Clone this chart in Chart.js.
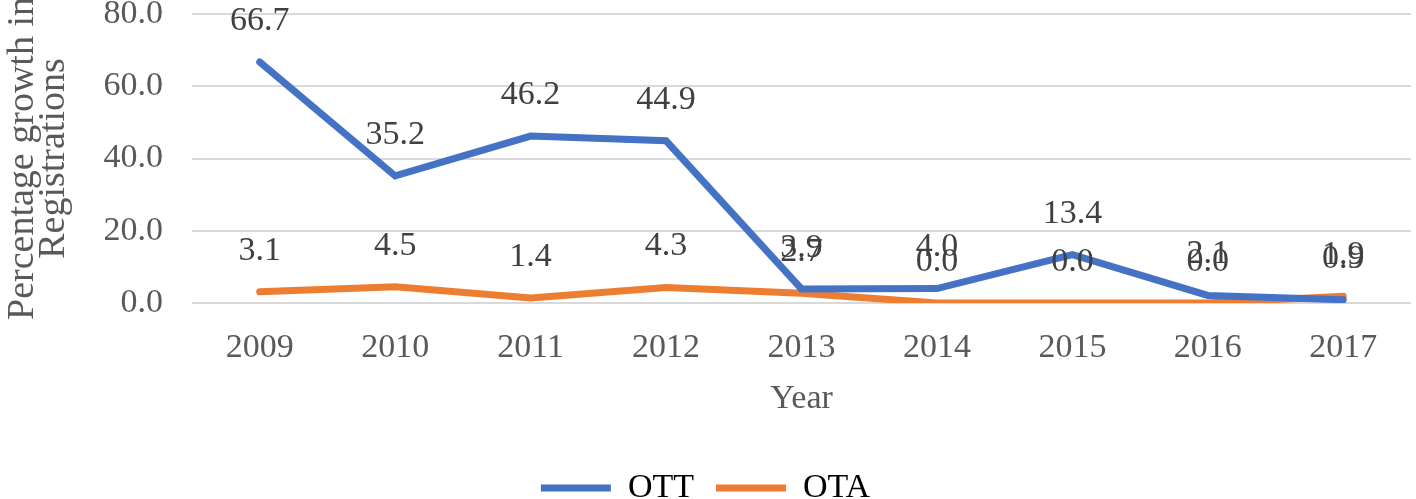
<!DOCTYPE html>
<html>
<head>
<meta charset="utf-8">
<script src="https://cdn.jsdelivr.net/npm/chart.js@4"></script>
<style>
  html, body { margin: 0; padding: 0; background: #fff; }
  #wrap { width: 1416px; height: 499px; }
</style>
</head>
<body>
<div id="wrap"><canvas id="growthChart" width="1416" height="499"></canvas></div>
<script>
const years = ['2009', '2010', '2011', '2012', '2013', '2014', '2015', '2016', '2017'];
const ottValues = [66.7, 35.2, 46.2, 44.9, 3.9, 4.0, 13.4, 2.1, 0.9];
const otaValues = [3.1, 4.5, 1.4, 4.3, 2.7, 0.0, 0.0, 0.0, 1.9];
const yTicks = [0, 20, 40, 60, 80];

const FONT = "'Liberation Serif', 'Times New Roman', serif";
const textColor = '#595959';

// draws the value above every point
const valueLabels = {
    id: 'valueLabels',
    afterDatasetsDraw(chart) {
        const ctx = chart.ctx;
        ctx.save();
        ctx.font = '34px ' + FONT;
        ctx.fillStyle = '#404040';
        ctx.textAlign = 'center';
        ctx.textBaseline = 'middle';
        chart.data.datasets.forEach((ds, i) => {
            const meta = chart.getDatasetMeta(i);
            meta.data.forEach((pt, j) => {
                ctx.fillText(ds.data[j].toFixed(1), pt.x, pt.y - 41);
            });
        });
        ctx.restore();
    }
};

const ctx = document.getElementById('growthChart').getContext('2d');
const chart = new Chart(ctx, {
    type: 'line',
    data: {
        labels: years,
        datasets: [{
            label: 'OTT',
            data: ottValues,
            borderColor: '#4472C4',
            backgroundColor: '#4472C4',
            borderWidth: 7,
            borderCapStyle: 'round',
            pointRadius: 0,
            tension: 0
        }, {
            label: 'OTA',
            data: otaValues,
            borderColor: '#ED7D31',
            backgroundColor: '#ED7D31',
            borderWidth: 7,
            borderCapStyle: 'round',
            pointRadius: 0,
            tension: 0
        }]
    },
    options: {
        responsive: false,
        animation: false,
        layout: { padding: { top: 14, right: 5, left: 0, bottom: -16 } },
        plugins: {
            tooltip: { enabled: false },
            legend: {
                position: 'bottom',
                labels: {
                    font: { family: FONT, size: 34 },
                    color: textColor,
                    boxWidth: 70,
                    boxHeight: 7,
                    padding: 22,
                    useBorderRadius: true,
                    borderRadius: 3,
                    generateLabels(c) {
                        return c.data.datasets.map((ds, i) => ({
                            text: ds.label,
                            fillStyle: ds.borderColor,
                            strokeStyle: ds.borderColor,
                            lineWidth: 0,
                            datasetIndex: i
                        }));
                    }
                }
            }
        },
        scales: {
            x: {
                offset: true,
                grid: { display: false },
                border: { display: false },
                ticks: {
                    font: { family: FONT, size: 34 },
                    color: textColor,
                    padding: 17,
                    maxRotation: 0
                },
                title: {
                    display: true,
                    text: 'Year',
                    font: { family: FONT, size: 34 },
                    color: textColor,
                    padding: { top: 12, bottom: 30 }
                },
                afterFit(scale) {
                    scale.height = 146;
                    scale.paddingLeft = 0;
                    scale.paddingRight = 0;
                }
            },
            y: {
                min: 0,
                max: 80,
                afterBuildTicks(scale) {
                    scale.ticks = yTicks.map(v => ({ value: v }));
                },
                grid: { color: '#d9d9d9', lineWidth: 2, drawTicks: false },
                border: { display: false },
                ticks: {
                    font: { family: FONT, size: 34 },
                    color: textColor,
                    padding: 29,
                    callback: v => v.toFixed(1)
                },
                title: {
                    display: true,
                    text: ['Percentage growth in', 'Registrations'],
                    font: { family: FONT, size: 38, lineHeight: 0.8 },
                    color: textColor,
                    padding: { top: 8, bottom: 0 }
                },
                afterFit(scale) {
                    scale.width = 192;
                    scale.paddingTop = 0;
                    scale.paddingBottom = 0;
                }
            }
        }
    },
    plugins: [valueLabels]
});
</script>
</body>
</html>
